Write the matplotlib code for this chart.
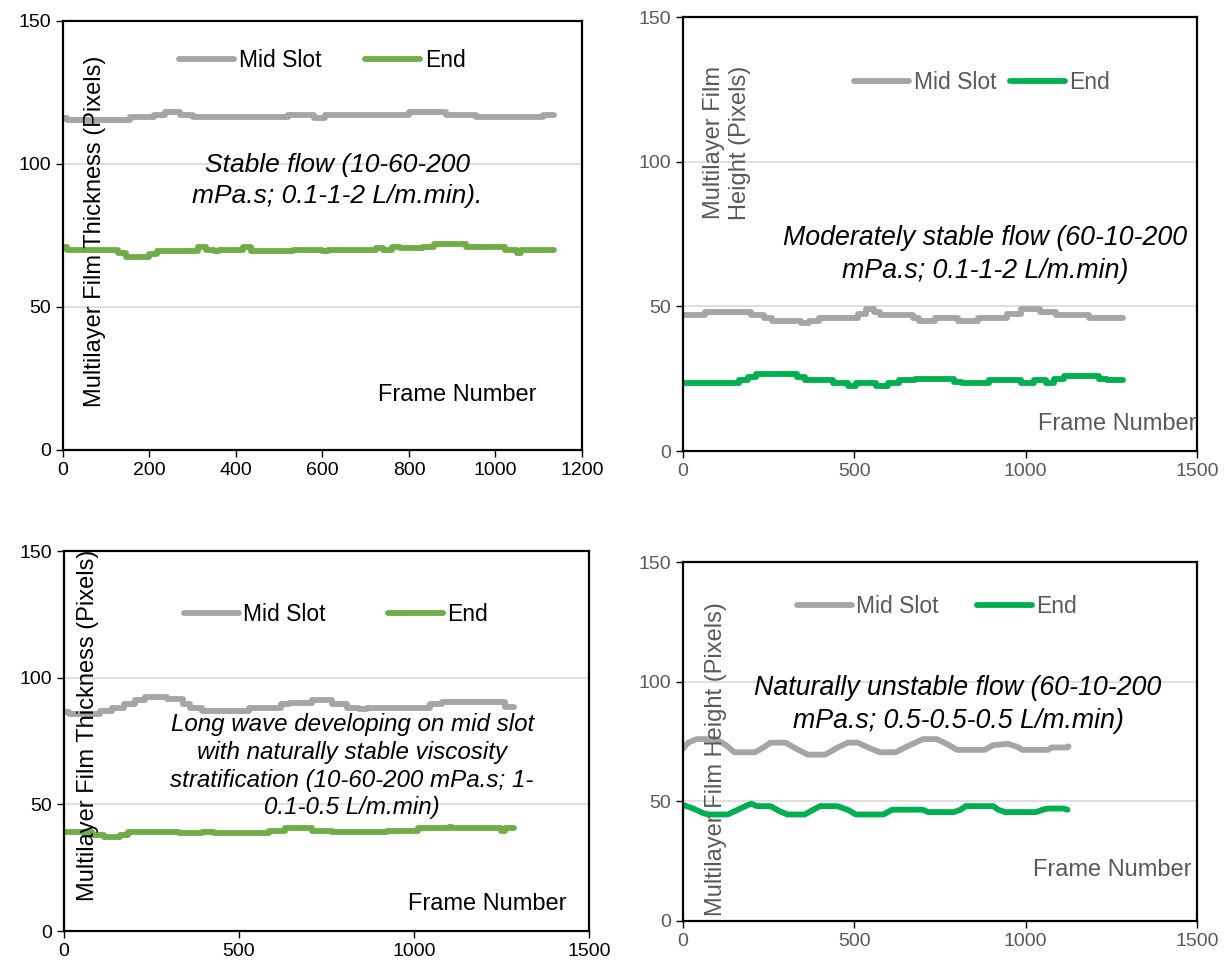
import matplotlib.pyplot as plt

plt.rcParams['font.family'] = ['Liberation Sans', 'DejaVu Sans']

GREY = '#A5A5A5'
GREEN_A = '#70AD47'
GREEN_B = '#00B050'
DARK = '#595959'

# --- panel 1: stable flow (step data, breakpoints)
p1_frames_mid = [0, 10, 155, 210, 235, 270, 300, 520, 580, 605, 800, 885, 955, 1110, 1135]
p1_mid = [116, 115.5, 116.5, 117, 118, 117, 116.5, 117, 116, 117, 118, 117, 116.5, 117, 117]
p1_frames_end = [0, 10, 127, 145, 199, 217, 312, 330, 350, 360, 416, 435, 533, 600, 612,
                 723, 740, 760, 780, 832, 859, 931, 1021, 1050, 1060, 1135]
p1_end = [71, 70, 69, 67.5, 68.5, 69.5, 71, 70, 69.5, 70, 71, 69.5, 70, 69.5, 70,
          70.5, 70, 71, 70.5, 71, 72, 71, 70, 69, 70, 70]

# --- panel 2: moderately stable flow
p2_frames_mid = [0, 65, 197, 237, 260, 345, 368, 397, 511, 534, 557, 574, 671, 688, 734,
                 802, 860, 945, 985, 1042, 1088, 1185, 1285]
p2_mid = [47, 48, 47, 46, 45, 44.3, 45, 46, 47.5, 49, 48, 47, 46, 45, 46,
          45, 46, 47.5, 49, 48, 47, 46, 46]
p2_frames_end = [0, 162, 191, 214, 334, 357, 437, 482, 505, 562, 597, 631, 677, 791, 814,
                 894, 985, 1025, 1060, 1082, 1111, 1214, 1237, 1285]
p2_end = [23.5, 24.5, 25.5, 26.5, 25.5, 24.5, 23.5, 22.5, 23.5, 22.5, 23.5, 24.5, 25, 24, 23.5,
          24.5, 23.5, 24.5, 23.5, 25, 26, 25, 24.5, 24.5]

# --- panel 3: long wave on mid slot
p3_frames_mid = [0, 13, 103, 137, 171, 204, 232, 294, 339, 361, 395, 530, 619, 642, 709,
                 765, 810, 844, 866, 1046, 1079, 1259, 1287]
p3_mid = [86.5, 85.5, 87, 88, 89.5, 91, 92.5, 91.5, 89.5, 88, 87, 88, 89.5, 90, 91,
          89.5, 88, 87.5, 88, 89.5, 90.5, 88.5, 88.5]
p3_frames_end = [0, 81, 114, 159, 182, 328, 395, 429, 586, 631, 709, 765, 922, 1012, 1100,
                 1110, 1250, 1260, 1287]
p3_end = [39, 38, 37, 38, 39, 38.5, 39, 38.5, 39.5, 40.5, 39.5, 39, 39.5, 40.5, 41,
          40.5, 39.5, 40.5, 40.5]

# --- panel 4: naturally unstable flow (wavy)
p4_frames_mid = [0, 15, 40, 95, 125, 150, 210, 235, 255, 300, 330, 365, 415, 445, 480, 510,
                 540, 575, 620, 655, 700, 740, 770, 800, 880, 905, 950, 980, 990, 1065,
                 1075, 1122, 1125]
p4_mid = [72, 74.5, 76, 76, 73.5, 70.5, 70.5, 72.5, 74.5, 74.5, 72, 69.5, 69.5, 72, 74.5, 74.5,
          72.5, 70.5, 70.5, 73, 76, 76, 74, 71.5, 71.5, 73.5, 74, 72.5, 71.5, 71.5,
          72.5, 72.5, 73]
p4_frames_end = [0, 30, 60, 75, 130, 160, 190, 200, 215, 255, 280, 305, 355, 380, 400, 450,
                 480, 505, 585, 610, 620, 700, 715, 790, 810, 825, 905, 920, 940, 1030,
                 1050, 1065, 1110, 1122]
p4_end = [48.5, 47, 45, 44.5, 44.5, 46.5, 48.5, 49, 48, 48, 46, 44.5, 44.5, 46.5, 48, 48,
          46.5, 44.5, 44.5, 46.5, 46.5, 46.5, 45.5, 45.5, 46.5, 48, 48, 46.5, 45.5, 45.5,
          46.5, 47, 47, 46.5]

fig = plt.figure(figsize=(12.28, 9.65), dpi=100)


def panel(rect, fx_mid, y_mid, fx_end, y_end, green, txt_color, xmax, xstep, steps,
          ylabel, ylab_pos, xlab_pos, leg_pos, colspace, note, note_pos, note_size,
          note_ls=1.36):
    ax = fig.add_axes(rect)
    ds = 'steps-post' if steps else 'default'
    ax.plot(fx_mid, y_mid, color=GREY, lw=4.2, drawstyle=ds, solid_capstyle='round',
            solid_joinstyle='round', label='Mid Slot')
    ax.plot(fx_end, y_end, color=green, lw=4.2, drawstyle=ds, solid_capstyle='round',
            solid_joinstyle='round', label='End')
    ax.set_xlim(0, xmax)
    ax.set_ylim(0, 150)
    ax.set_xticks(range(0, xmax + 1, xstep))
    ax.set_yticks([0, 50, 100, 150])
    ax.yaxis.grid(True, color='#D9D9D9', lw=1.2)
    ax.set_axisbelow(True)
    for s in ax.spines.values():
        s.set_linewidth(1.6)
        s.set_color('black')
    ax.tick_params(direction='out', length=5, width=1, color='black',
                   labelcolor=txt_color, labelsize=14)
    ax.text(ylab_pos[0], ylab_pos[1], ylabel, transform=ax.transAxes, rotation=90,
            ha='center', va='center', fontsize=17, color=txt_color, linespacing=1.25)
    ax.text(xlab_pos[0], xlab_pos[1], 'Frame Number', transform=ax.transAxes,
            ha='center', va='center', fontsize=17, color=txt_color, clip_on=False)
    ax.text(note_pos[0], note_pos[1], note, transform=ax.transAxes, ha='center',
            va='center', fontsize=note_size, style='italic', color='black',
            linespacing=note_ls)
    ax.legend(loc='center', bbox_to_anchor=leg_pos, ncol=2, frameon=False, fontsize=16.5,
              handlelength=2.4, handletextpad=0.2, columnspacing=colspace,
              labelcolor=txt_color)
    return ax


panel([0.0513, 0.5337, 0.4226, 0.4446], p1_frames_mid, p1_mid, p1_frames_end, p1_end,
      GREEN_A, 'black', 1200, 200, True,
      'Multilayer Film Thickness (Pixels)', (0.062, 0.51), (0.76, 0.128), (0.5, 0.907), 1.9,
      'Stable flow (10-60-200\nmPa.s; 0.1-1-2 L/m.min).', (0.528, 0.629), 19)

panel([0.5562, 0.5326, 0.4186, 0.4497], p2_frames_mid, p2_mid, p2_frames_end, p2_end,
      GREEN_B, DARK, 1500, 500, True,
      'Multilayer Film\nHeight (Pixels)', (0.086, 0.71), (0.845, 0.062), (0.582, 0.85), 0.6,
      'Moderately stable flow (60-10-200\nmPa.s; 0.1-1-2 L/m.min)', (0.588, 0.452), 19.3)

panel([0.0521, 0.0352, 0.4275, 0.3938], p3_frames_mid, p3_mid, p3_frames_end, p3_end,
      GREEN_A, 'black', 1500, 500, True,
      'Multilayer Film Thickness (Pixels)', (0.046, 0.542), (0.806, 0.071), (0.518, 0.832), 2.7,
      'Long wave developing on mid slot\nwith naturally stable viscosity\n'
      'stratification (10-60-200 mPa.s; 1-\n0.1-0.5 L/m.min)', (0.549, 0.434), 17.4, 1.27)

panel([0.5562, 0.0456, 0.4186, 0.3720], p4_frames_mid, p4_mid, p4_frames_end, p4_end,
      GREEN_B, DARK, 1500, 500, False,
      'Multilayer Film Height (Pixels)', (0.064, 0.451), (0.835, 0.142), (0.494, 0.875), 1.65,
      'Naturally unstable flow (60-10-200\nmPa.s; 0.5-0.5-0.5 L/m.min)', (0.535, 0.602), 19.3)

fig.savefig('out.png', dpi=100)
